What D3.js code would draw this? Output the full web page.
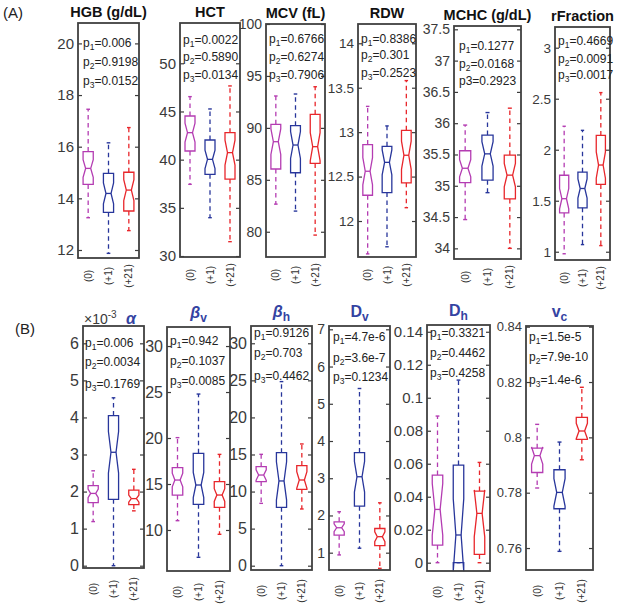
<!DOCTYPE html>
<html>
<head>
<meta charset="utf-8">
<script src="https://cdn.jsdelivr.net/npm/d3@7"></script>
<style>
  body { margin: 0; background: #fff; }
  svg { font-family: "Liberation Sans", Arial, sans-serif; }
</style>
</head>
<body>
<script>
// groups (days) and their colours
var groups = ["(0)", "(+1)", "(+21)"]
var groupColors = ["#b43cb2", "#28369b", "#e8262b"]

// box stats per group: [whisker low, q1, median, q3, whisker high]
var hgb = [[13.25, 14.54, 15.16, 15.81, 17.45], [11.87, 13.46, 14.19, 14.97, 16.15], [12.75, 13.51, 14.32, 15.01, 16.74]]
var hct = [[37.44, 40.9, 42.8, 44.53, 46.54], [33.98, 38.48, 40.03, 42.04, 45.26], [31.49, 37.99, 40.73, 42.8, 47.65]]
var mcv = [[82.66, 86.04, 88.67, 90.34, 93.07], [81.99, 85.68, 88.35, 90.21, 93.26], [79.68, 86.58, 88.19, 91.3, 93.96]]
var rdw = [[11.63, 12.29, 12.56, 12.86, 13.29], [11.71, 12.32, 12.66, 12.84, 13.07], [12.15, 12.43, 12.74, 13.02, 13.58]]
var mchc = [[34.46, 35.05, 35.28, 35.56, 35.97], [34.89, 35.09, 35.51, 35.81, 36.17], [34.0, 34.79, 35.17, 35.49, 36.24]]
var rfraction = [[0.98, 1.38, 1.52, 1.75, 2.23], [1.07, 1.43, 1.62, 1.78, 2.19], [1.06, 1.66, 1.85, 2.14, 2.56]]
var alpha = [[1.19, 1.7, 1.95, 2.16, 2.56], [0.0, 1.79, 3.06, 4.05, 4.53], [1.48, 1.65, 1.81, 2.04, 2.6]]
var betaV = [[11.01, 13.8, 15.43, 16.78, 20.04], [7.03, 12.79, 14.89, 18.33, 24.78], [9.53, 12.46, 13.8, 15.25, 18.22]]
var betaH = [[8.41, 11.34, 12.23, 13.36, 15.02], [0, 7.87, 11.43, 15.25, 24.83], [7.65, 10.3, 11.56, 13.5, 16.42]]
var dv = [[0.94, 1.47, 1.67, 1.83, 2.1], [1.12, 2.25, 3.04, 3.69, 5.41], [0.58, 1.19, 1.43, 1.65, 2.34]]
var dh = [[0, 0.0107, 0.0323, 0.0531, 0.0889], [0, 0, 0.0168, 0.0592, 0.1107], [0, 0.005, 0.0299, 0.0434, 0.0608]]
var vc = [[0.7817, 0.7873, 0.7934, 0.7961, 0.8047], [0.7588, 0.7742, 0.7801, 0.7883, 0.7983], [0.7919, 0.7993, 0.8023, 0.8072, 0.8181]]

// sample size used for the notch (median +- 1.57*IQR/sqrt(n))
var sampleSizes = [34, 34, 30, 34, 34, 34, 40, 40, 20, 30, 18, 20]

// p-values shown in each panel
var pHgb = ["0.006", "0.9198", "0.0152"]
var pHct = ["0.0022", "0.5890", "0.0134"]
var pMcv = ["0.6766", "0.6274", "0.7906"]
var pRdw = ["0.8386", "0.301", "0.2523"]
var pMchc = ["0.1277", "0.0168", "0.2923"]
var pRfraction = ["0.4669", "0.0091", "0.0017"]
var pAlpha = ["0.006", "0.0034", "0.1769"]
var pBetaV = ["0.942", "0.1037", "0.0085"]
var pBetaH = ["0.9126", "0.703", "0.4462"]
var pDv = ["4.7e-6", "3.6e-7", "0.1234"]
var pDh = ["0.3321", "0.4462", "0.4258"]
var pVc = ["1.5e-5", "7.9e-10", "1.4e-6"]

// titles: [main, subscript]
var titles = [["HGB (g/dL)", ""], ["HCT", ""], ["MCV (fL)", ""], ["RDW", ""], ["MCHC (g/dL)", ""], ["rFraction", ""],
              ["α", ""], ["β", "v"], ["β", "h"], ["D", "v"], ["D", "h"], ["v", "c"]]

// axis limits and tick values
var yDomains = [[11.69, 20.79], [29.9, 54.18], [77.57, 100], [11.595, 14.217], [33.83, 37.553], [0.919, 3.203],
                [-0.062, 6.467], [5.54, 32.07], [-0.58, 32.33], [0.535, 7.089], [-0.00503, 0.1441], [0.75206, 0.84025]]
var yTicks = [[12, 14, 16, 18, 20], [30, 35, 40, 45, 50], [80, 85, 90, 95, 100], [12, 12.5, 13, 13.5, 14],
              [34, 34.5, 35, 35.5, 36, 36.5, 37, 37.5], [1, 1.5, 2, 2.5, 3],
              [0, 1, 2, 3, 4, 5, 6], [10, 15, 20, 25, 30], [0, 5, 10, 15, 20, 25, 30], [1, 2, 3, 4, 5, 6, 7],
              [0, 0.02, 0.04, 0.06, 0.08, 0.1, 0.12, 0.14], [0.76, 0.78, 0.8, 0.82, 0.84]]

var stats = [hgb, hct, mcv, rdw, mchc, rfraction, alpha, betaV, betaH, dv, dh, vc]
var pvals = [pHgb, pHct, pMcv, pRdw, pMchc, pRfraction, pAlpha, pBetaV, pBetaH, pDv, pDh, pVc]

// layout: frame [left, right, top, bottom], p-text x and baselines, tick font size
var frames = [[78, 139, 23, 258], [180, 240, 23, 257], [266, 325, 24, 257], [358, 416, 24, 257], [454, 521, 26, 259], [555, 610, 27, 260],
              [83, 144, 326, 568], [167, 230, 327, 571], [251, 312, 326, 570], [329, 390, 326, 570], [427, 490, 325, 571], [526, 593, 326, 570]]
var pPos = [[83, 47, 66, 85], [183, 44, 61, 79], [269, 43, 61, 79], [361, 43, 59, 77], [459, 50, 68, 85], [558, 45, 63, 79],
            [85, 347, 366, 388], [170, 345, 365, 385], [254, 337, 357, 380], [333, 341, 362, 381], [430, 337, 357, 377], [529, 341, 361, 384]]
var tickFont = [15, 15, 14, 13.5, 14, 13.5, 16, 16, 16, 14, 15, 13]

var svg = d3.select("body").append("svg")
    .attr("width", 617)
    .attr("height", 609)

svg.append("text").attr("x", 3).attr("y", 18).attr("font-size", 15).attr("fill", "#222").text("(A)")
svg.append("text").attr("x", 15).attr("y", 334).attr("font-size", 15).attr("fill", "#222").text("(B)")

stats.forEach(function (boxes, k) {
    var f = frames[k]
    var bottomRow = k >= 6
    var x = d3.scaleLinear().domain([0.5, 3.5]).range([f[0], f[1]])
    var y = d3.scaleLinear().domain(yDomains[k]).range([f[3], f[2]])
    var g = svg.append("g")
    var w = x(1.25) - x(0.75)   // box width = 0.5
    var inset = w / 4
    var capW = w * 0.36
    var n = sampleSizes[k]

    // axes (ticks pointing inwards on both sides)
    var left = g.append("g")
        .attr("transform", "translate(" + f[0] + ",0)")
        .call(d3.axisLeft(y).tickValues(yTicks[k]).tickSize(-4).tickPadding(4)
            .tickFormat(function (d) { return String(+d.toFixed(4)) }))
    left.select(".domain").remove()
    left.selectAll("line").attr("stroke", "#3c3c3c").attr("stroke-width", 1.2)
    left.selectAll("text").attr("font-size", tickFont[k]).attr("fill", "#3a3a3a")
        .attr("font-family", "'Liberation Sans', Arial, sans-serif")
    var right = g.append("g")
        .attr("transform", "translate(" + f[1] + ",0)")
        .call(d3.axisRight(y).tickValues(yTicks[k]).tickSize(-4).tickFormat(""))
    right.select(".domain").remove()
    right.selectAll("line").attr("stroke", "#3c3c3c").attr("stroke-width", 1.2)

    // boxes
    boxes.forEach(function (s, i) {
        var cx = x(i + 1)
        var col = groupColors[i]
        var half = 1.57 * (s[3] - s[1]) / Math.sqrt(n)
        var nlo = s[2] - half, nhi = s[2] + half
        var xl = cx - w / 2, xr = cx + w / 2
        var pts = [[xl, y(s[1])], [xl, y(nlo)], [xl + inset, y(s[2])], [xl, y(nhi)], [xl, y(s[3])],
                   [xr, y(s[3])], [xr, y(nhi)], [xr - inset, y(s[2])], [xr, y(nlo)], [xr, y(s[1])]]

        // whiskers
        g.append("line").attr("x1", cx).attr("x2", cx).attr("y1", y(s[3])).attr("y2", y(s[4]))
            .attr("stroke", col).attr("stroke-width", 1.3).attr("stroke-dasharray", "4.5,3.5")
        g.append("line").attr("x1", cx).attr("x2", cx).attr("y1", y(s[1])).attr("y2", y(s[0]))
            .attr("stroke", col).attr("stroke-width", 1.3).attr("stroke-dasharray", "4.5,3.5")
        ;[s[0], s[4]].forEach(function (v) {
            g.append("line").attr("x1", cx - capW / 2).attr("x2", cx + capW / 2).attr("y1", y(v)).attr("y2", y(v))
                .attr("stroke", col).attr("stroke-width", 1.4)
        })

        g.append("path")
            .attr("d", d3.line()(pts) + "Z")
            .attr("fill", "none").attr("stroke", col).attr("stroke-width", 1.3)
        g.append("line").attr("x1", xl + inset).attr("x2", xr - inset).attr("y1", y(s[2])).attr("y2", y(s[2]))
            .attr("stroke", col).attr("stroke-width", 1.3)

        // group label, rotated
        g.append("text")
            .attr("transform", "translate(" + cx + "," + (f[3] + (bottomRow ? 21 : 18)) + ") rotate(-90)")
            .attr("text-anchor", "middle").attr("dy", "0.35em")
            .attr("font-size", 10).attr("fill", "#333")
            .text(groups[i])
    })

    // frame
    g.append("rect").attr("x", f[0]).attr("y", f[2]).attr("width", f[1] - f[0]).attr("height", f[3] - f[2])
        .attr("fill", "none").attr("stroke", "#404040").attr("stroke-width", 1.8)

    // p-values
    var pp = pPos[k]
    pvals[k].forEach(function (v, j) {
        var t = g.append("text").attr("x", pp[0]).attr("y", pp[j + 1]).attr("font-size", 12).attr("fill", "#222")
        t.append("tspan").text("p")
        if (k == 4 && j == 2) {
            t.append("tspan").text("3=" + v)   // printed without subscript in the original
        } else {
            t.append("tspan").attr("font-size", 8.5).attr("dy", 3).text(j + 1)
            t.append("tspan").attr("dy", -3).text("=" + v)
        }
    })

    // titles
    var ti = titles[k]
    if (!bottomRow) {
        g.append("text").attr("x", (f[0] + f[1]) / 2).attr("y", f[2] - 6)
            .attr("text-anchor", "middle").attr("font-size", 14.5).attr("font-weight", "bold").attr("fill", "#111")
            .text(ti[0])
    } else {
        var greek = ti[0] == "α" || ti[0] == "β"
        var tx = k == 6 ? 131 : (f[0] + f[1]) / 2
        var ty = k == 6 ? f[2] - 2 : f[2] - 9
        var tt = g.append("text").attr("x", tx).attr("y", ty)
            .attr("text-anchor", "middle").attr("font-weight", "bold").attr("fill", "#3443a2")
        tt.append("tspan").attr("font-size", 16).attr("font-style", greek ? "italic" : "normal").text(ti[0])
        if (ti[1]) tt.append("tspan").attr("font-size", 12).attr("dy", 4).text(ti[1])
    }
    if (k == 6) {
        var ex = g.append("text").attr("x", f[0] + 1).attr("y", f[2] - 2).attr("font-size", 14).attr("fill", "#3a3a3a")
        ex.append("tspan").text("×10")
        ex.append("tspan").attr("font-size", 10).attr("dy", -6).text("-3")
    }
})
</script>
</body>
</html>
